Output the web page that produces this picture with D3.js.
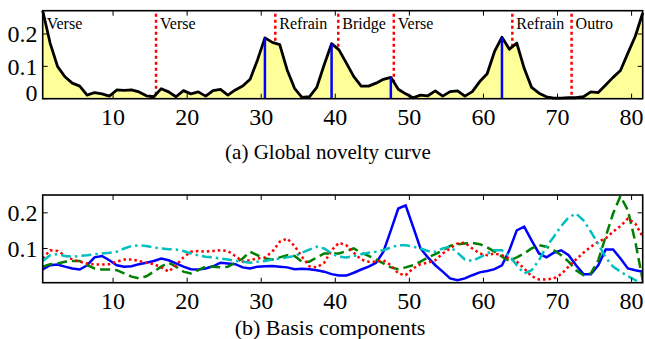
<!DOCTYPE html>
<html>
<head>
<meta charset="utf-8">
<script src="https://cdn.jsdelivr.net/npm/d3@7"></script>
<style>
  body { margin: 0; background: #fff; }
  svg { display: block; }
  text { font-family: 'Liberation Serif', 'Times New Roman', 'DejaVu Serif', serif; }
</style>
</head>
<body>
<script>
// global novelty curve, one value per frame (frames at k + 0.5)
var novelty = [
  0.272, 0.172, 0.100, 0.068, 0.048, 0.039, 0.011, 0.019, 0.015, 0.008,
  0.027, 0.026, 0.027, 0.021, 0.009, 0.006, 0.031, 0.021, 0.006, 0.025,
  0.015, 0.021, 0.008, 0.025, 0.029, 0.011, 0.027, 0.039, 0.060, 0.120,
  0.188, 0.174, 0.167, 0.089, 0.032, 0.004, 0.006, 0.035, 0.105, 0.170,
  0.151, 0.110, 0.068, 0.039, 0.039, 0.048, 0.060, 0.066, 0.029, 0.015,
  0.003, 0.011, 0.009, 0.024, 0.008, 0.022, 0.024, 0.008, 0.022, 0.053,
  0.077, 0.146, 0.190, 0.153, 0.172, 0.094, 0.035, 0.017, 0.006, 0.002,
  0.002, 0.003, 0.003, 0.006, 0.021, 0.019, 0.042, 0.066, 0.087, 0.141,
  0.193, 0.265
];
var boundaries = [15.8, 31.9, 40.4, 47.9, 63.9, 71.9];
var sectionStarts = [0.5, 15.8, 31.9, 40.4, 47.9, 63.9, 71.9];
var sectionNames = ["Verse", "Verse", "Refrain", "Bridge", "Verse", "Refrain", "Outro"];
var peaks = [30.5, 39.5, 47.5, 62.5];

// basis components
var basisBlue = [
  0.041, 0.053, 0.055, 0.049, 0.044, 0.041, 0.053, 0.075, 0.079, 0.067,
  0.053, 0.049, 0.050, 0.056, 0.060, 0.065, 0.072, 0.067, 0.058, 0.049,
  0.042, 0.041, 0.044, 0.050, 0.060, 0.058, 0.056, 0.047, 0.044, 0.049,
  0.050, 0.051, 0.049, 0.047, 0.042, 0.043, 0.042, 0.039, 0.035, 0.028,
  0.024, 0.024, 0.032, 0.041, 0.049, 0.060, 0.091, 0.151, 0.212, 0.221,
  0.161, 0.100, 0.075, 0.053, 0.035, 0.016, 0.011, 0.016, 0.025, 0.033,
  0.037, 0.042, 0.053, 0.095, 0.151, 0.161, 0.123, 0.086, 0.075, 0.088,
  0.095, 0.081, 0.053, 0.028, 0.028, 0.053, 0.097, 0.097, 0.072, 0.044,
  0.039, 0.035
];
var basisGreen = [
  0.049, 0.056, 0.058, 0.063, 0.065, 0.065, 0.053, 0.044, 0.041, 0.041,
  0.039, 0.030, 0.021, 0.016, 0.022, 0.035, 0.049, 0.060, 0.049, 0.035,
  0.030, 0.039, 0.049, 0.049, 0.047, 0.049, 0.060, 0.072, 0.091, 0.081,
  0.072, 0.069, 0.075, 0.081, 0.079, 0.063, 0.063, 0.075, 0.086, 0.086,
  0.086, 0.093, 0.100, 0.088, 0.079, 0.069, 0.058, 0.047, 0.042, 0.047,
  0.053, 0.063, 0.075, 0.084, 0.095, 0.107, 0.112, 0.114, 0.116, 0.112,
  0.103, 0.091, 0.077, 0.065, 0.075, 0.086, 0.100, 0.109, 0.105, 0.095,
  0.081, 0.063, 0.039, 0.025, 0.030, 0.067, 0.133, 0.198, 0.247, 0.207,
  0.119, 0.011
];
var basisRed = [
  0.072, 0.095, 0.093, 0.081, 0.069, 0.063, 0.058, 0.055, 0.055, 0.056,
  0.063, 0.069, 0.069, 0.065, 0.060, 0.056, 0.047, 0.035, 0.053, 0.075,
  0.091, 0.093, 0.091, 0.093, 0.095, 0.093, 0.079, 0.063, 0.067, 0.072,
  0.075, 0.091, 0.119, 0.128, 0.107, 0.077, 0.050, 0.047, 0.060, 0.095,
  0.116, 0.109, 0.088, 0.069, 0.063, 0.063, 0.067, 0.053, 0.030, 0.025,
  0.044, 0.056, 0.060, 0.067, 0.086, 0.100, 0.114, 0.116, 0.100, 0.086,
  0.081, 0.086, 0.081, 0.072, 0.063, 0.044, 0.022, 0.013, 0.013, 0.016,
  0.028, 0.049, 0.069, 0.088, 0.105, 0.119, 0.128, 0.147, 0.163, 0.184,
  0.170, 0.133
];
var basisCyan = [
  0.065, 0.081, 0.084, 0.079, 0.077, 0.079, 0.081, 0.084, 0.086, 0.088,
  0.091, 0.100, 0.107, 0.109, 0.107, 0.103, 0.100, 0.098, 0.097, 0.093,
  0.086, 0.081, 0.077, 0.075, 0.072, 0.069, 0.065, 0.063, 0.060, 0.063,
  0.065, 0.069, 0.072, 0.075, 0.079, 0.088, 0.097, 0.105, 0.100, 0.086,
  0.077, 0.075, 0.079, 0.084, 0.088, 0.091, 0.095, 0.103, 0.109, 0.109,
  0.105, 0.100, 0.093, 0.091, 0.100, 0.105, 0.088, 0.069, 0.065, 0.075,
  0.086, 0.095, 0.095, 0.079, 0.053, 0.030, 0.039, 0.067, 0.105, 0.133,
  0.163, 0.187, 0.198, 0.179, 0.147, 0.112, 0.075, 0.049, 0.035, 0.022,
  0.011, 0.004
];

var xTicks = [10, 20, 30, 40, 50, 60, 70, 80];
var topYTicks = [0, 0.1, 0.2];
var bottomYTicks = [0.1, 0.2];

var width = 645, height = 339;
var left = 42.7, right = 642.7;

var svg = d3.select("body").append("svg")
  .attr("width", width)
  .attr("height", height);

var x = d3.scaleLinear().domain([0.5, 81.5]).range([left, right]);
var frames = d3.range(novelty.length).map(k => k + 0.5);

// draw one MATLAB-like box with inward ticks
function drawBox(g, y, yTicks, top, bottom, zeroLift) {
  var tl = 5;
  g.append("rect")
    .attr("x", left).attr("y", top)
    .attr("width", right - left).attr("height", bottom - top)
    .attr("fill", "none").attr("stroke", "#000").attr("stroke-width", 1.6);
  xTicks.forEach(t => {
    g.append("line").attr("x1", x(t)).attr("x2", x(t)).attr("y1", bottom).attr("y2", bottom - tl)
      .attr("stroke", "#000").attr("stroke-width", 1);
    g.append("line").attr("x1", x(t)).attr("x2", x(t)).attr("y1", top).attr("y2", top + tl)
      .attr("stroke", "#000").attr("stroke-width", 1);
    g.append("text").attr("x", x(t)).attr("y", bottom + 26.5)
      .attr("text-anchor", "middle").attr("font-size", 24).text(t);
  });
  yTicks.forEach(t => {
    g.append("line").attr("x1", left).attr("x2", left + tl).attr("y1", y(t)).attr("y2", y(t))
      .attr("stroke", "#000").attr("stroke-width", 1);
    g.append("line").attr("x1", right).attr("x2", right - tl).attr("y1", y(t)).attr("y2", y(t))
      .attr("stroke", "#000").attr("stroke-width", 1);
    g.append("text").attr("x", 37.5).attr("y", y(t) + 8.5 - (t === 0 ? zeroLift : 0))
      .attr("text-anchor", "end").attr("font-size", 24).text(t === 0 ? "0" : d3.format(".1f")(t));
  });
}

// ---- (a) global novelty curve ----
var topT = 10.7, topB = 98.7;
var y1 = d3.scaleLinear().domain([0, 0.272]).range([topB, topT]);
var g1 = svg.append("g");

g1.selectAll("line.bound").data(boundaries).enter().append("line")
  .attr("class", "bound")
  .attr("x1", d => x(d)).attr("x2", d => x(d))
  .attr("y1", topT + 3).attr("y2", topB)
  .attr("stroke", "#ff0000").attr("stroke-width", 2.5)
  .attr("stroke-dasharray", "3,3");

var area = d3.area()
  .x((d, i) => x(frames[i]))
  .y0(topB)
  .y1(d => y1(d));
g1.append("path").attr("d", area(novelty)).attr("fill", "#ffff99");

var line1 = d3.line().x((d, i) => x(frames[i])).y(d => y1(d));
g1.append("path").attr("d", line1(novelty))
  .attr("fill", "none").attr("stroke", "#000").attr("stroke-width", 2.8)
  .attr("stroke-linejoin", "round");

g1.selectAll("line.peak").data(peaks).enter().append("line")
  .attr("class", "peak")
  .attr("x1", d => x(d)).attr("x2", d => x(d))
  .attr("y1", topB).attr("y2", d => y1(novelty[d - 0.5]))
  .attr("stroke", "#0000ff").attr("stroke-width", 2.5);

g1.selectAll("text.sec").data(sectionNames).enter().append("text")
  .attr("class", "sec")
  .attr("x", (d, i) => x(sectionStarts[i]) + 4)
  .attr("y", 28.5)
  .attr("font-size", 16)
  .text(d => d);

drawBox(g1, y1, topYTicks, topT, topB, 6);

svg.append("text").attr("x", 328).attr("y", 158.5)
  .attr("text-anchor", "middle").attr("font-size", 21)
  .text("(a) Global novelty curve");

// ---- (b) basis components ----
var botT = 195, botB = 282.7;
var y2 = d3.scaleLinear().domain([0.004, 0.25]).range([botB, botT]);
var g2 = svg.append("g");

svg.append("clipPath").attr("id", "clipb").append("rect")
  .attr("x", left).attr("y", botT).attr("width", right - left).attr("height", botB - botT);

var line2 = d3.line().x((d, i) => x(frames[i])).y(d => y2(d));
var series = [
  { v: basisBlue, c: "#0000ff", dash: null },
  { v: basisGreen, c: "#008000", dash: "10,5" },
  { v: basisRed, c: "#ff0000", dash: "2.5,3" },
  { v: basisCyan, c: "#00bfbf", dash: "10,4,2.5,4" }
];
g2.append("g").attr("clip-path", "url(#clipb)")
  .selectAll("path").data(series).enter().append("path")
  .attr("d", d => line2(d.v))
  .attr("fill", "none")
  .attr("stroke", d => d.c)
  .attr("stroke-width", 2.5)
  .attr("stroke-dasharray", d => d.dash);

drawBox(g2, y2, bottomYTicks, botT, botB, 0);

svg.append("text").attr("x", 330).attr("y", 334.5)
  .attr("text-anchor", "middle").attr("font-size", 22)
  .text("(b) Basis components");
</script>
</body>
</html>
